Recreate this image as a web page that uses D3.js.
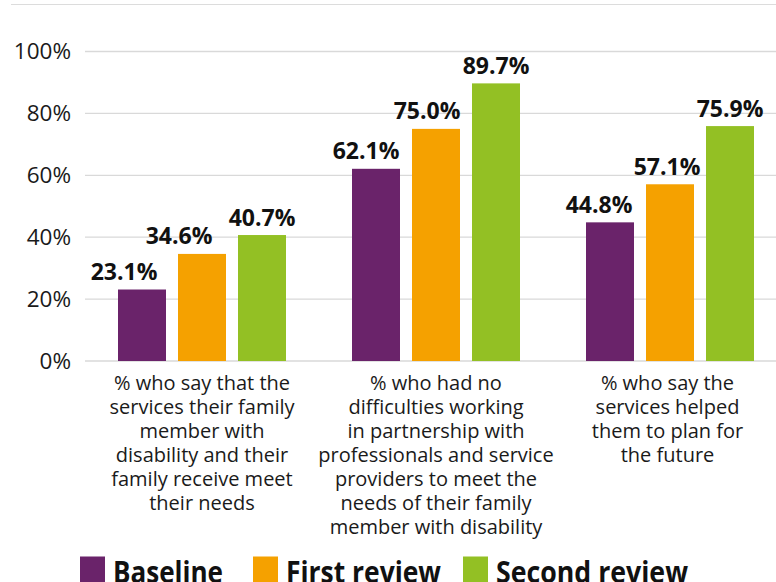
<!DOCTYPE html>
<html>
<head>
<meta charset="utf-8">
<script src="https://cdn.jsdelivr.net/npm/d3@7"></script>
<style>
  html, body { margin: 0; padding: 0; background: #fff; }
  svg { display: block; }
</style>
</head>
<body>
<svg id="chart" width="776" height="582"></svg>
<script>
// Survey outcomes by review stage
const categories = [
  ["% who say that the", "services their family", "member with", "disability and their", "family receive meet", "their needs"],
  ["% who had no", "difficulties working", "in partnership with", "professionals and service", "providers to meet the", "needs of their family", "member with disability"],
  ["% who say the", "services helped", "them to plan for", "the future"]
];
const seriesNames = ["Baseline", "First review", "Second review"];
const baseline     = [23.1, 62.1, 44.8];
const firstReview  = [34.6, 75.0, 57.1];
const secondReview = [40.7, 89.7, 75.9];
const yTicks = [0, 20, 40, 60, 80, 100];

const colors = ["#6A236A", "#F5A100", "#93C024"];
const series = [baseline, firstReview, secondReview];
const FONT = "'Open Sans', sans-serif";

const svg = d3.select("#chart");
const W = 776;

const x0 = d3.scaleBand().domain(d3.range(categories.length)).range([85, 787]);
const x1 = d3.scaleBand().domain(d3.range(series.length))
  .range([0, x0.bandwidth()]).paddingInner(0.2).paddingOuter(0.55);
const y = d3.scaleLinear().domain([0, 100]).range([361, 51.5]);

// frame line along the top
svg.append("line").attr("x1", 11).attr("x2", W).attr("y1", 4.5).attr("y2", 4.5)
  .attr("stroke", "#dcdcdc").attr("stroke-width", 1.2);

// grid and y axis
const yAxis = d3.axisLeft(y).tickValues(yTicks).tickFormat(d => d + "%").tickSize(0).tickPadding(14);
const gy = svg.append("g").attr("transform", "translate(85,0)").call(yAxis);
gy.select(".domain").remove();
gy.selectAll("text").attr("font-family", FONT).attr("font-size", 22.5)
  .attr("fill", "#1a1a1a");
svg.append("g").selectAll("line").data(yTicks).join("line")
  .attr("x1", 85).attr("x2", W).attr("y1", d => y(d)).attr("y2", d => y(d))
  .attr("stroke", "#d9d9d9").attr("stroke-width", 1.3);

// bars
const groups = svg.append("g").selectAll("g").data(categories).join("g")
  .attr("transform", (d, i) => `translate(${x0(i)},0)`);

groups.each(function(cat, ci) {
  const g = d3.select(this);
  series.forEach((vals, si) => {
    g.append("rect")
      .attr("x", x1(si)).attr("width", x1.bandwidth())
      .attr("y", y(vals[ci])).attr("height", y(0) - y(vals[ci]))
      .attr("fill", colors[si]);
  });
});

// value labels, nudged left where neighbours would crowd them
const labelNudge = [[-18, -23, 0], [-10, -9, 0], [-11, -3, 0]];
groups.each(function(cat, ci) {
  const g = d3.select(this);
  series.forEach((vals, si) => {
    g.append("text")
      .attr("x", x1(si) + x1.bandwidth() / 2 + labelNudge[ci][si])
      .attr("y", y(vals[ci]) - 9.5)
      .attr("text-anchor", "middle")
      .attr("font-family", FONT).attr("font-weight", 700)
      .attr("font-size", 23).attr("fill", "#111")
      .text(vals[ci].toFixed(1) + "%");
  });
});

// category labels
groups.append("text")
  .attr("text-anchor", "middle")
  .attr("font-family", FONT).attr("font-size", 20).attr("fill", "#1a1a1a")
  .each(function(lines, ci) {
    const t = d3.select(this);
    lines.forEach((ln, li) => {
      t.append("tspan").attr("x", x0.bandwidth() / 2 - (ci === 2 ? 2.5 : 0))
        .attr("y", 390 + li * 24).text(ln);
    });
  });

// legend (condensed bold labels)
const legendX = [80, 253, 463];
const legendTextW = [110, 155, 192];
const lg = svg.append("g").selectAll("g").data(seriesNames).join("g")
  .attr("transform", (d, i) => `translate(${legendX[i]},0)`);
lg.append("rect").attr("x", 0).attr("y", 556.5).attr("width", 25).attr("height", 26)
  .attr("fill", (d, i) => colors[i]);
lg.append("text").attr("x", 33).attr("y", 583)
  .attr("font-family", FONT).attr("font-weight", 700)
  .attr("font-size", 31).attr("fill", "#111")
  .attr("textLength", (d, i) => legendTextW[i]).attr("lengthAdjust", "spacingAndGlyphs")
  .text(d => d);
</script>
</body>
</html>
